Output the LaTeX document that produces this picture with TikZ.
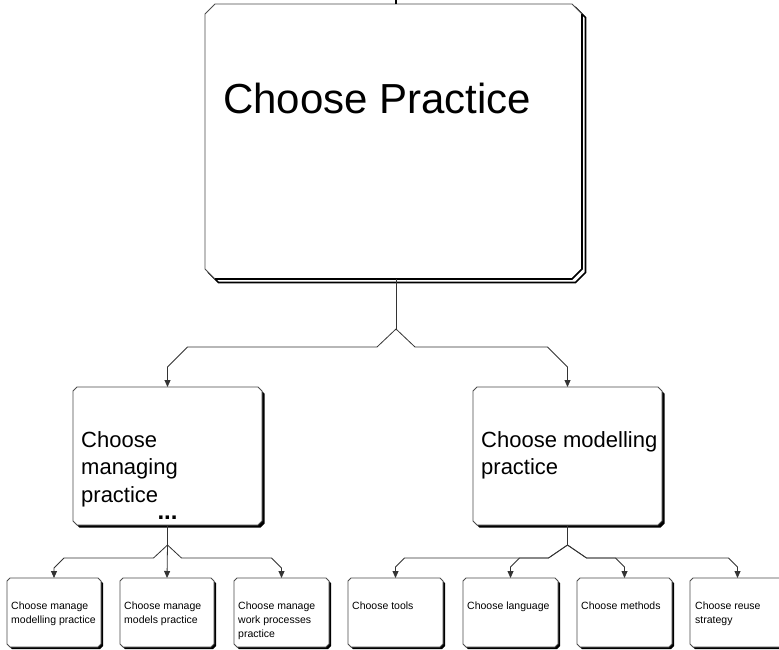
\documentclass[tikz,border=0pt]{standalone}
\usepackage{fontspec}
\setmainfont{Liberation Sans}
\usetikzlibrary{arrows.meta,calc}

% outline of a box with cut corners: x1, y1, x2, y2, chamfer
\newcommand\cbpath[5]{(#1+#5,#2) -- (#3-#5,#2) -- (#3,#2+#5) -- (#3,#4-#5) -- (#3-#5,#4) -- (#1+#5,#4) -- (#1,#4-#5) -- (#1,#2+#5) -- cycle}

% box with a solid shadow: name, x1, y1, x2, y2, chamfer, shadow offset
\newcommand\cbbox[7]{%
  \fill[black, shift={(#7,#7)}] \cbpath{#2}{#3}{#4}{#5}{#6};
  \filldraw[boxline] \cbpath{#2}{#3}{#4}{#5}{#6};
  \node[anchorbox, minimum width={#4-#2}, minimum height={#5-#3}] (#1) at ({(#2+#4)/2},{(#3+#5)/2}) {};
}

\newcommand\fbig{\fontsize{42}{50}\selectfont}
\newcommand\fmid{\fontsize{22}{27.5}\selectfont}
\newcommand\fsmall{\fontsize{10.5}{14}\selectfont}

\begin{document}
\begin{tikzpicture}[x=1pt, y=-1pt,
  boxline/.style={fill=white, draw=black!70, line width=0.8pt},
  anchorbox/.style={rectangle, draw=none, inner sep=0pt, outer sep=0pt},
  conn/.style={draw=black!80, line width=0.8pt},
  arr/.style={conn, -{Triangle[length=7pt,width=6pt]}},
  % texts are placed by the baseline of their last line
  txt/.style={inner sep=0pt, anchor=base west, align=left, text=black}]

\fill[white] (0,0) rectangle (779,649);
\useasboundingbox (0,0) rectangle (779,649);

% top-level activity, with a double outline on its lower right
\filldraw[fill=white, draw=black, line width=1.6pt, shift={(3.5,3.5)}] \cbpath{205}{4}{582}{279}{10};
\filldraw[boxline] \cbpath{205}{4}{582}{279}{10};
\draw[black, line width=1.6pt] (582,14) -- (582,269) -- (572,279) -- (215,279);
\node[anchorbox, minimum width=377, minimum height=275] (b0) at (393.5,141.5) {};
\node[txt, font=\fbig] (t0) at (223,113) {Choose Practice};
\draw[line width=2.5pt] ([xshift=2.5pt]b0.north) -- ++(0,-4);

% second level
\cbbox{b1}{73}{387}{262}{525}{4}{2.5}
\cbbox{b2}{473}{387}{662}{525}{4}{2.5}
\node[txt, font=\fmid] (t1) at (81,502) {Choose\\managing\\practice};
\node[txt, font=\fmid] (t2) at (481,474.5) {Choose modelling\\practice};
\node[inner sep=0pt, anchor=base, font=\fontsize{24}{24}\selectfont\bfseries] (dots) at (167.5,519) {...};

% third level
\cbbox{c1}{7}{578}{101}{647}{3}{2}
\cbbox{c2}{120}{578}{214}{647}{3}{2}
\cbbox{c3}{234}{578}{329}{647}{3}{2}
\cbbox{d1}{348}{578}{443}{647}{3}{2}
\cbbox{d2}{463}{578}{558}{647}{3}{2}
\cbbox{d3}{577}{578}{672}{647}{3}{2}
\cbbox{d4}{690}{578}{785}{647}{3}{2}

\node[txt, font=\fsmall] (tc1) at (11,623) {Choose manage\\modelling practice};
\node[txt, font=\fsmall] (tc2) at (124,623) {Choose manage\\models practice};
\node[txt, font=\fsmall] (tc3) at (238,637) {Choose manage\\work processes\\practice};
\node[txt, font=\fsmall] (td1) at (352,609) {Choose tools};
\node[txt, font=\fsmall] (td2) at (467,609) {Choose language};
\node[txt, font=\fsmall] (td3) at (581,609) {Choose methods};
\node[txt, font=\fsmall] (td4) at (695,623) {Choose reuse\\strategy};

% decomposition connectors
\draw[conn] ([xshift=2.5pt]b0.south) -- ++(0,50) coordinate (f0);
\draw[arr] (f0) -- ++(-19,18) -- ($(b1.north)+(20,-40)$) -- ($(b1.north)+(0,-20)$) -- (b1.north);
\draw[arr] (f0) -- ++(19,18) -- ($(b2.north)+(-20,-40)$) -- ($(b2.north)+(0,-20)$) -- (b2.north);

\draw[conn] (b1.south) -- ++(0,20) coordinate (f1);
\draw[arr] (f1) -- ++(-14,13) -- ($(c1.north)+(10,-20)$) -- ($(c1.north)+(0,-10)$) -- (c1.north);
\draw[arr] (f1) -- (c2.north);
\draw[arr] (f1) -- ++(14,13) -- ($(c3.north)+(-10,-20)$) -- ($(c3.north)+(0,-10)$) -- (c3.north);

\draw[conn] (b2.south) -- ++(0,20) coordinate (f2);
\draw[arr] (f2) -- ++(-19,13) -- ($(d1.north)+(9,-20)$) -- ($(d1.north)+(0,-11)$) -- (d1.north);
\draw[arr] (f2) -- ++(-19,13) -- ($(d2.north)+(9,-20)$) -- ($(d2.north)+(0,-11)$) -- (d2.north);
\draw[arr] (f2) -- ++(19,13) -- ($(d3.north)+(-9,-20)$) -- ($(d3.north)+(0,-11)$) -- (d3.north);
\draw[arr] (f2) -- ++(19,13) -- ($(d4.north)+(-9,-20)$) -- ($(d4.north)+(0,-11)$) -- (d4.north);
\end{tikzpicture}
\end{document}
